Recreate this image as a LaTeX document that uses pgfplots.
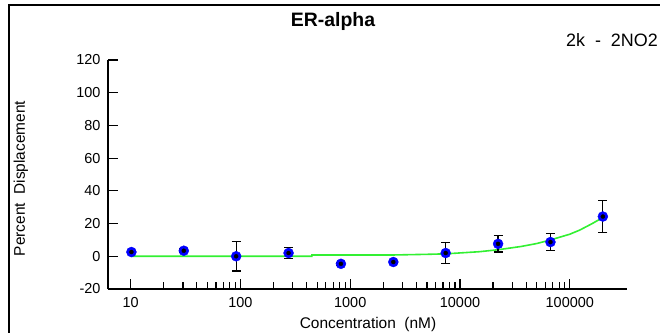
\documentclass[border=0pt]{standalone}
\usepackage{pgfplots}
\pgfplotsset{compat=1.18}
\usepackage{fontspec}
\setmainfont{Liberation Sans}
\definecolor{fitgreen}{RGB}{50,240,50}
\begin{document}
\begin{tikzpicture}[x=1bp,y=1bp]
\useasboundingbox (0,0) rectangle (660,332);
\draw[line width=2bp] (9.3,-10) -- (9.3,326.7) -- (680,326.7);
\node[anchor=base, font=\bfseries\fontsize{19.5}{22}\selectfont] at (333,305.3) {ER-alpha};
\node[anchor=base east, font=\fontsize{18}{20}\selectfont, inner sep=0pt] at (658,285.3) {2k~~-~~2NO2};
\node[anchor=base, font=\fontsize{15.5}{18}\selectfont, inner sep=0pt] at (368,4) {Concentration~~(nM)};
\node[rotate=90, anchor=center, font=\fontsize{15.5}{18}\selectfont, inner sep=0pt] at (21,153.5) {Percent~~Displacement};
\begin{axis}[
  at={(108bp,43bp)}, anchor=south west,
  scale only axis, width=519bp, height=229bp,
  xmode=log, xmin=6.22, xmax=332000,
  ymin=-20, ymax=120,
  axis x line*=bottom, axis y line*=left,
  axis line style={line width=1.2bp, black},
  tick align=inside,
  major tick length=10bp, minor tick length=7bp,
  tick style={line width=1.2bp, black},
  xtick={10,100,1000,10000,100000},
  xticklabels={10,100,1000,10000,100000},
  ytick={-20,0,20,40,60,80,100,120},
  yticklabels={-20,0,20,40,60,80,100,120},
  ticklabel style={font=\fontsize{14.5}{16}\selectfont},
  xticklabel style={yshift=-5bp},
  yticklabel style={xshift=-4bp},
  clip=false,
]
\addplot[fitgreen, line width=1.6bp, mark=none] coordinates {
 (10,0) (447,0) (447,0.8) (2469,0.8) (5000,1.2) (7407,1.5) (15000,2.8)
 (22222,4) (36000,6) (50000,7.8) (66667,10) (100000,13.5) (123000,16)
 (160000,20) (200000,23.7)
};
\addplot[only marks, mark=*, mark size=5bp, blue, mark options={draw=blue, fill=blue}] table[x=x, y=y] {
x y e
10.16 2.6 1
30.48 3.4 1
91.45 0 9
274.3 2 3.3
823 -4.6 1
2469 -3.5 1
7407 2 6.5
22222 7.6 5
66667 8.7 5.2
200000 24.3 9.8
};
\addplot[only marks, mark=none, black,
  error bars/.cd, y dir=both, y explicit,
  error bar style={black, line width=1.2bp},
  error mark options={rotate=90, mark size=4.5bp, black, line width=1.2bp}]
  table[x=x, y=y, y error=e] {
x y e
10.16 2.6 1
30.48 3.4 1
91.45 0 9
274.3 2 3.3
823 -4.6 1
2469 -3.5 1
7407 2 6.5
22222 7.6 5
66667 8.7 5.2
200000 24.3 9.8
};
\end{axis}
\end{tikzpicture}
\end{document}
